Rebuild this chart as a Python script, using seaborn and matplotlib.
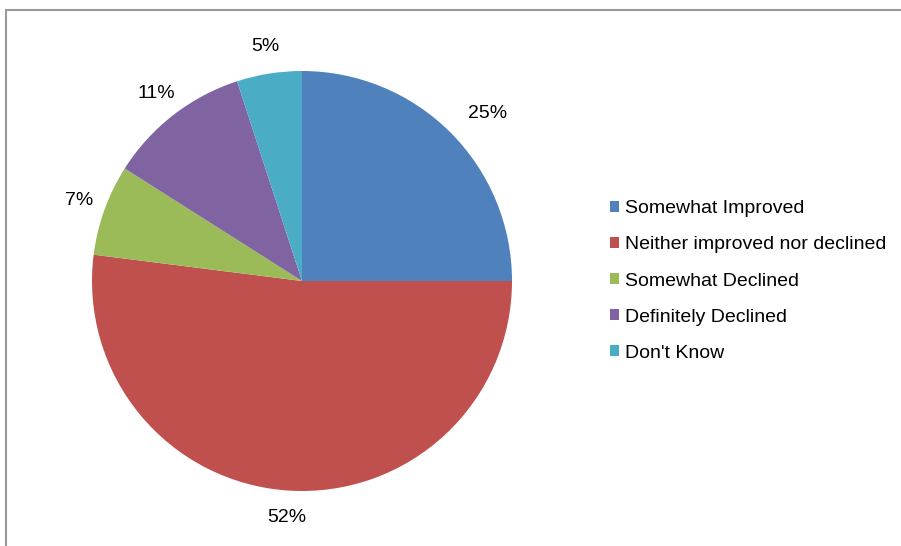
import seaborn as sns
from matplotlib import pyplot as plt
from matplotlib.patches import Rectangle

# Data
categories = ["Somewhat Improved", "Neither improved nor declined",
              "Somewhat Declined", "Definitely Declined", "Don't Know"]
shares = [25, 52, 7, 11, 5]
colors = ["#4F81BD", "#C0504D", "#9BBB59", "#8064A2", "#4BACC6"]

sns.set_theme(style="white")
plt.rcParams['font.family'] = ['Liberation Sans', 'DejaVu Sans']
plt.rcParams['text.color'] = 'black'

fig = plt.figure(figsize=(9.01, 5.46), dpi=100)
W, H = 901, 546
cx, cy, r = 302, 281, 210
ax = fig.add_axes([(cx - r) / W, (H - cy - r) / H, 2 * r / W, 2 * r / H])

wedges, texts, autotexts = ax.pie(
    shares, colors=colors, startangle=90, counterclock=False,
    autopct='%d%%', pctdistance=1.13, radius=1.0,
    wedgeprops=dict(linewidth=0),
    textprops=dict(fontsize=14, color='black'))
# the 25% label sits a bit further out in the original
autotexts[0].set_position((0.886, 0.80))
ax.set_xlim(-1, 1)
ax.set_ylim(-1, 1)
ax.set_aspect('equal')
ax.axis('off')

leg = fig.legend(wedges, categories, loc='center left',
                 bbox_to_anchor=(592 / W, 1 - 281 / H),
                 frameon=False, fontsize=14, handlelength=0.5,
                 handleheight=0.5, handletextpad=0.3, labelspacing=0.98)
for t in leg.get_texts():
    t.set_color('black')

# outer chart border (partially cut off like the original)
fig.patches.append(Rectangle((6 / W, -0.05), 1.0, 1 - 10 / H + 0.05,
                             transform=fig.transFigure, fill=False,
                             edgecolor='#999999', linewidth=1.5))

plt.savefig("out.png", dpi=100)
